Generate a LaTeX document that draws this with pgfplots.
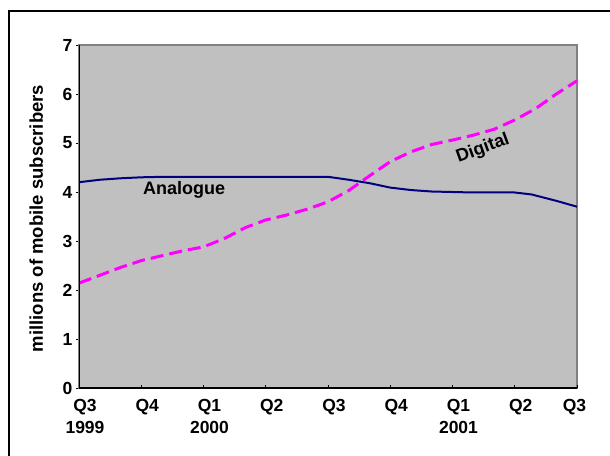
\documentclass[border=0pt]{standalone}
\usepackage{fontspec}
\setmainfont{Liberation Sans}
\usepackage{pgfplots}
\pgfplotsset{compat=1.18}
\definecolor{bgray}{RGB}{192,192,192}
\definecolor{navyc}{RGB}{0,0,128}
\definecolor{magc}{RGB}{255,0,255}
\begin{document}
\begin{tikzpicture}
\useasboundingbox (0,0) rectangle (610pt,-455pt);
\draw[line width=2pt] (9pt,-11pt) rectangle (640pt,-480pt);
\begin{axis}[
  at={(79pt,-388pt)}, anchor=south west,
  width=498pt, height=343pt, scale only axis,
  xmin=0, xmax=8, ymin=0, ymax=7,
  axis background/.style={fill=bgray},
  axis line style={draw=gray, line width=1.2pt},
  xtick={0,...,7},
  xticklabels={Q3\\1999, Q4, Q1\\2000, Q2, Q3, Q4, Q1\\2001, Q2},
  extra x ticks={8}, extra x tick labels={Q3},
  extra x tick style={xticklabel style={xshift=-8.5pt}},
  ytick={0,...,7},
  xtick pos=bottom, ytick pos=left,
  xtick align=inside, ytick align=outside,
  major tick length=3pt,
  tick style={black, line width=0.8pt},
  /pgf/number format/assume math mode=true,
  xticklabel style={align=center, font=\fontsize{17.5}{21.3}\selectfont\bfseries, xshift=6pt, yshift=-8pt},
  yticklabel style={font=\fontsize{17.5}{21}\selectfont\bfseries},
  ylabel={millions of mobile subscribers},
  ylabel style={font=\fontsize{18.5}{21}\selectfont\bfseries, at={(axis description cs:-0.0723,0.494)}, anchor=base, inner sep=0pt, rotate=0},
]
\addplot[navyc, line width=2pt, no markers] coordinates {
(0,4.20) (0.333,4.25) (0.667,4.28) (1,4.30) (1.333,4.31) (1.667,4.31)
(2,4.31) (2.333,4.31) (2.667,4.31) (3,4.31) (3.333,4.31) (3.667,4.31)
(4,4.31) (4.333,4.25) (4.667,4.18) (5,4.09) (5.333,4.04) (5.667,4.01)
(6,4.00) (6.333,3.99) (6.667,3.99) (7,3.99) (7.27,3.95) (7.667,3.82) (8,3.70)
};
\addplot[magc, line width=3pt, dash pattern=on 13pt off 6pt, no markers] coordinates {
(0,2.14) (0.333,2.30) (0.667,2.46) (1,2.60) (1.333,2.70) (1.667,2.80)
(2,2.88) (2.333,3.05) (2.667,3.27) (3,3.43) (3.333,3.53) (3.667,3.65)
(4,3.80) (4.333,4.03) (4.667,4.33) (5,4.62) (5.333,4.82) (5.667,4.97)
(6,5.06) (6.333,5.16) (6.667,5.28) (7,5.47) (7.333,5.70) (7.667,6.00) (8,6.27)
};
\draw[black, line width=1.5pt] (rel axis cs:0,1) -- (rel axis cs:0,0) -- (rel axis cs:1,0);
\node[font=\fontsize{18}{21}\selectfont\bfseries, anchor=base] at (axis cs:1.687,3.94) {Analogue};
\node[font=\fontsize{18}{21}\selectfont\bfseries, rotate=20] at (axis cs:6.49,4.88) {Digital};
\end{axis}
\end{tikzpicture}
\end{document}
